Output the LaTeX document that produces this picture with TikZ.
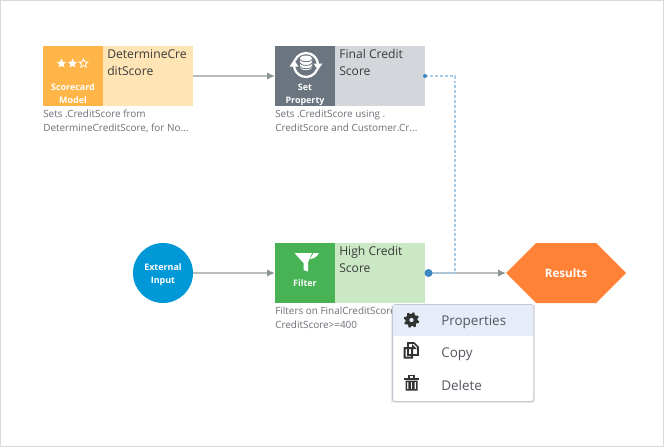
\documentclass[tikz,border=0pt]{standalone}
\usepackage{fontspec}
\setmainfont{Open Sans}
\usetikzlibrary{arrows.meta,shadows,calc}
\definecolor{framec}{HTML}{D9D9D9}
\definecolor{orangeL}{HTML}{FFE4B5}
\definecolor{orangeD}{HTML}{FFB547}
\definecolor{slateL}{HTML}{D3D6DB}
\definecolor{slateD}{HTML}{6B757F}
\definecolor{greenL}{HTML}{CBE8C4}
\definecolor{greenD}{HTML}{47B355}
\definecolor{bluec}{HTML}{0098D6}
\definecolor{orangeH}{HTML}{FF8237}
\definecolor{linec}{HTML}{B8BCBC}
\definecolor{arrowc}{HTML}{8A9494}
\definecolor{dotc}{HTML}{A5CCE8}
\definecolor{portc}{HTML}{3D87C0}
\definecolor{subc}{HTML}{6E6E78}
\definecolor{titlec}{HTML}{3A3A3A}
\definecolor{menuc}{HTML}{E6ECF8}
\definecolor{menub}{HTML}{C3C8D0}
\definecolor{menut}{HTML}{55575F}
\definecolor{iconc}{HTML}{333333}
\tikzset{
  x=0.75pt,y=-0.75pt,
  iconbox/.style={minimum width=45pt,minimum height=45pt,inner sep=0pt,outer sep=0pt,anchor=north west},
  titlebox/.style={minimum width=67.5pt,minimum height=45pt,inner sep=0pt,outer sep=0pt,anchor=north west},
  titletext/.style={anchor=north west,inner sep=0pt,text=titlec,font=\fontsize{9.1pt}{12.75pt}\selectfont,align=left},
  subtext/.style={anchor=north west,inner sep=0pt,text=subc,font=\fontsize{7.45pt}{10.4pt}\selectfont,align=left},
  icontext/.style={text=white,inner sep=0pt,font=\bfseries\fontsize{6.7pt}{9.6pt}\selectfont,align=center},
  flow/.style={draw=linec,line width=1.1pt,-{Latex[length=6pt,width=5.5pt,color=arrowc]}},
  dotted link/.style={draw=dotc,line width=1.7pt,dash pattern=on 2.2pt off 1.5pt},
  menutext/.style={anchor=west,inner sep=0pt,text=menut,font=\fontsize{10.1pt}{12pt}\selectfont},
}
\begin{document}
\begin{tikzpicture}
\useasboundingbox (0,0) rectangle (664,447);
\fill[white] (0,0) rectangle (664,447);
\draw[framec,line width=0.75pt] (0.5,0.5) rectangle (663.5,446.5);

% Scorecard
\node[iconbox,fill=orangeD] (sI) at (43,46) {};
\node[titlebox,fill=orangeL] (sT) at (103,46) {};
\node[titletext] (sTx) at (107,49) {DetermineCre\\ditScore};
\node[icontext,font=\bfseries\fontsize{6.7pt}{9.5pt}\selectfont] (sL) at (73,93.5) {Scorecard\\Model};
\node[subtext] (sS) at (43,109.5) {Sets .CreditScore from\\DetermineCreditScore, for No...};
\foreach \cx in {61.5,72.5}{
  \fill[white] plot[samples=11,domain=0:360,variable=\a] ({\cx+(mod(\a,72)==0?5:2.2)*sin(\a)},{63.5-(mod(\a,72)==0?5:2.2)*cos(\a)}) -- cycle;
}
\draw[white,line width=0.6pt] plot[samples=11,domain=0:360,variable=\a] ({83.5+(mod(\a,72)==0?4.6:2.1)*sin(\a)},{63.5-(mod(\a,72)==0?4.6:2.1)*cos(\a)}) -- cycle;

% Set property
\node[iconbox,fill=slateD] (pI) at (275,46) {};
\node[titlebox,fill=slateL] (pT) at (335,46) {};
\node[titletext] (pTx) at (339,49) {Final Credit\\Score};
\node[icontext] (pL) at (305,94.5) {Set\\Property};
\node[subtext] (pS) at (275,109.5) {Sets .CreditScore using .\\CreditScore and Customer.Cr...};
% drum
\fill[white] (300,58) arc (180:360:6 and 2.4) -- (312,67.5) arc (0:180:6 and 2.6) -- cycle;
\draw[slateD,line width=0.6pt] (300,59.5) arc (180:0:6 and 2.2);
\draw[slateD,line width=0.6pt] (300,63) arc (180:0:6 and 2.4);
\draw[slateD,line width=0.6pt] (300,66.5) arc (180:0:6 and 2.2);
% refresh ring
\draw[white,line width=1.7pt] (294.7,60.9) arc (200:358:12);
\draw[white,line width=1.7pt] (317.3,69.1) arc (20:178:12);
\fill[white] (313.5,63.5) -- (322.5,63.5) -- (318,70) -- cycle;
\fill[white] (289.5,66.5) -- (298.5,66.5) -- (294,60) -- cycle;

% Filter
\node[iconbox,fill=greenD] (fI) at (275,243) {};
\node[titlebox,fill=greenL] (fT) at (335,243) {};
\node[titletext] (fTx) at (339,246) {High Credit\\Score};
\node[icontext] (fL) at (305,283.5) {Filter};
\node[subtext] (fS) at (275,306.5) {Filters on FinalCreditScore\\CreditScore>=400};
\fill[white] (294.5,253) -- (312,253) -- (308,262.5) -- (308,271.5) -- (303.5,270) -- (303.5,263) -- cycle;
\fill[white] (310,259) .. controls (313,259) and (317,257) .. (319,253) -- (313.5,253) -- cycle;

% External
\node[circle,fill=bluec,minimum size=45pt,inner sep=0pt,outer sep=0pt] (ext) at (163,273) {};
\node[icontext] (extL) at (163,274.5) {External\\Input};

% Results
\fill[orangeH] (506,273) -- (536,243) -- (596,243) -- (626,273) -- (596,303) -- (536,303) -- cycle;
\coordinate (res) at (506,273);
\node[text=white,inner sep=0pt,font=\bfseries\fontsize{8.7pt}{10pt}\selectfont] (resL) at (566,273.5) {Results};

% connectors
\coordinate (pOut) at (425,76);
\coordinate (fOut) at (428.5,273);
\coordinate (join) at (455,273);
\draw[flow] (sT.east) -- (pI.west);
\draw[flow] (ext.east) -- (fI.west);
\draw[flow] (fOut) -- (res);
\draw[dotted link] (pOut) -| (join);
\draw[dotted link] (fOut) -- (join);
\fill[portc] (pOut) circle (2);
\fill[portc] (fOut) circle (4);

% Menu
\fill[black,opacity=0.07] (391,305) rectangle +(144,98);
\node[draw=menub,fill=white,line width=0.75pt,rounded corners=2pt,minimum width=106pt,minimum height=72.75pt,inner sep=0pt,anchor=north west] (menu) at (392,304) {};
\fill[menuc] (392.7,304.7) rectangle (532.8,336);
\node[menutext] (m1) at (441,322.5) {Properties};
\node[menutext] (m2) at (441,354.5) {Copy};
\node[menutext] (m3) at (441,385.5) {Delete};
% gear
\fill[iconc,even odd rule] plot[samples=33,domain=0:360,variable=\a] ({411.5+(mod(\a,45)<22?7.8:6)*cos(\a+11)},{320+(mod(\a,45)<22?7.8:6)*sin(\a+11)}) -- cycle (411.5,320) circle (2.3);
% copy
\draw[iconc,line width=1.2pt,fill=white] (408,343) -- (414,343) -- (418,347) -- (418,355) -- (408,355) -- cycle;
\fill[iconc] (412,344) -- (417,349) -- (412,349) -- cycle;
\fill[iconc,even odd rule] (403.5,347) rectangle (413,358.5) (405.5,349) rectangle (411,356.5);
% trash
\fill[iconc] (404,378) rectangle (419,379.8);
\draw[iconc,line width=1pt] (409,378) -- (409,375.5) -- (414,375.5) -- (414,378);
\fill[iconc,even odd rule] (405.5,380.5) -- (417.5,380.5) -- (417.5,390.5) -- (405.5,390.5) -- cycle
  (407,382) rectangle (408.4,389) (410.8,382) rectangle (412.2,389) (414.6,382) rectangle (416,389);
\end{tikzpicture}
\end{document}
